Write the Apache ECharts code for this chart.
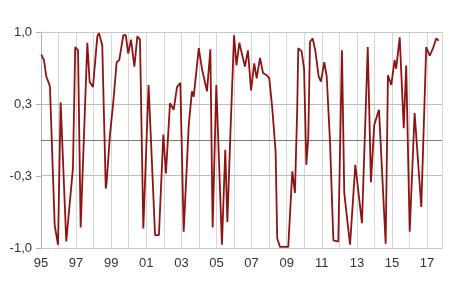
<!DOCTYPE html>
<html>
<head>
<meta charset="utf-8">
<script src="https://cdn.jsdelivr.net/npm/echarts@6/dist/echarts.min.js"></script>
<style>html,body{margin:0;padding:0;background:#fff}#c{width:450px;height:291px}</style>
</head>
<body>
<div id="c"></div>
<script>
// Dates (decimal years) of the line's vertices
var dates = [1995.02,1995.17,1995.30,1995.46,1995.51,1995.78,1995.97,1996.12,1996.44,1996.82,1996.95,1997.11,1997.26,1997.64,1997.77,1997.96,1998.21,1998.30,1998.49,1998.69,1998.74,1998.93,1999.12,1999.31,1999.46,1999.69,1999.83,1999.97,2000.13,2000.32,2000.49,2000.64,2000.83,2001.13,2001.50,2001.72,2001.97,2002.12,2002.35,2002.56,2002.75,2002.94,2003.13,2003.42,2003.60,2003.70,2003.99,2004.17,2004.46,2004.65,2004.78,2004.99,2005.31,2005.50,2005.62,2005.79,2006.00,2006.14,2006.30,2006.62,2006.79,2006.97,2007.15,2007.29,2007.48,2007.65,2007.86,2008.01,2008.18,2008.37,2008.46,2008.62,2009.09,2009.32,2009.47,2009.60,2009.66,2009.85,2009.99,2010.12,2010.23,2010.33,2010.48,2010.63,2010.82,2010.95,2011.14,2011.28,2011.47,2011.66,2011.94,2012.15,2012.28,2012.61,2012.91,2013.29,2013.62,2013.80,2013.99,2014.26,2014.64,2014.77,2014.96,2015.15,2015.24,2015.44,2015.67,2015.81,2016.01,2016.29,2016.67,2016.95,2017.15,2017.34,2017.52,2017.66];
var values = [0.79,0.74,0.59,0.52,0.49,-0.79,-0.97,0.35,-0.94,-0.26,0.86,0.83,-0.81,0.90,0.54,0.49,0.96,0.99,0.88,-0.45,-0.39,0.05,0.35,0.72,0.74,0.97,0.97,0.80,0.93,0.68,0.96,0.93,-0.82,0.51,-0.88,-0.88,0.05,-0.31,0.34,0.28,0.49,0.53,-0.85,0.14,0.45,0.40,0.85,0.66,0.45,0.84,-0.81,0.51,-0.97,-0.09,-0.76,0.05,0.97,0.69,0.90,0.68,0.83,0.46,0.71,0.57,0.76,0.62,0.60,0.57,0.29,-0.11,-0.91,-0.99,-0.99,-0.29,-0.49,0.29,0.85,0.82,0.66,-0.23,0.02,0.91,0.94,0.83,0.59,0.54,0.72,0.59,-0.02,-0.93,-0.94,0.83,-0.49,-0.97,-0.23,-0.77,0.86,-0.39,0.14,0.28,-0.96,0.60,0.51,0.74,0.66,0.95,0.11,0.69,-0.85,0.25,-0.62,0.86,0.78,0.85,0.94,0.92];
var yTicks = [-1, -1/3, 1/3, 1];
var xMin = 1995, xMax = 2017.85;

var pts = dates.map(function (d, i) { return [d, values[i]]; });
var chart = echarts.init(document.getElementById('c'), null, {renderer: 'canvas'});
var fnt = 'Liberation Sans, Arial, sans-serif';
chart.setOption({
  animation: false,
  grid: {left: 41, right: 8, top: 32, bottom: 43, containLabel: false},
  xAxis: {
    type: 'value', min: xMin, max: xMax, interval: 1,
    axisLine: {show: true, onZero: false, lineStyle: {color: '#c8c8c8', width: 1}},
    axisTick: {show: false},
    splitLine: {show: true, lineStyle: {color: '#d6d6d6', width: 1}},
    axisLabel: {
      margin: 9, color: '#333', fontSize: 13, fontFamily: fnt,
      showMaxLabel: false,
      formatter: function (v) {
        if (Math.abs(v - Math.round(v)) > 1e-6) return '';
        var y = Math.round(v);
        if (y % 2 !== 1) return '';
        var s = String(y % 100);
        return s.length < 2 ? '0' + s : s;
      }
    }
  },
  yAxis: {
    type: 'value', min: -1, max: 1,
    axisLine: {show: true, lineStyle: {color: '#b0b0b0', width: 1}},
    axisTick: {show: true, length: 5, inside: false, customValues: yTicks, lineStyle: {color: '#b0b0b0'}},
    splitLine: {show: false},
    axisLabel: {
      customValues: yTicks,
      margin: 9, color: '#333', fontSize: 13, fontFamily: fnt,
      formatter: function (v) { return v.toFixed(1).replace('.', ','); }
    }
  },
  series: [
    {
      type: 'line', data: [], z: 1, silent: true,
      markLine: {
        silent: true, symbol: 'none', label: {show: false}, animation: false,
        data: [
          {yAxis: 1, lineStyle: {color: '#c8c8c8', width: 1, type: 'solid'}},
          {yAxis: 1/3, lineStyle: {color: '#bdbdbd', width: 1, type: 'solid'}},
          {yAxis: -1/3, lineStyle: {color: '#bdbdbd', width: 1, type: 'solid'}},
          {yAxis: 0, lineStyle: {color: '#7a7a7a', width: 1, type: 'solid'}}
        ]
      }
    },
    {
      type: 'line', data: pts, showSymbol: false, symbol: 'none',
      lineStyle: {color: '#8E1414', width: 1.8},
      z: 5
    }
  ]
});
</script>
</body>
</html>
